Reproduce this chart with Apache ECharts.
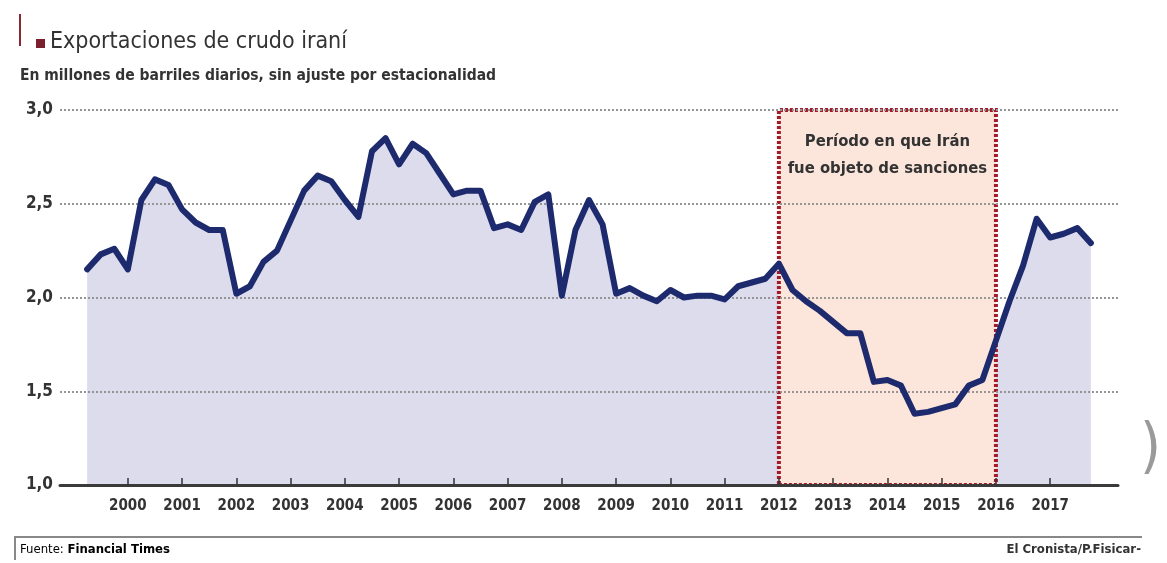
<!DOCTYPE html>
<html>
<head>
<meta charset="utf-8">
<script src="https://cdn.jsdelivr.net/npm/echarts@6/dist/echarts.min.js"></script>
<style>
  html, body { margin: 0; padding: 0; background: #fff; }
  #chart { width: 1167px; height: 563px; }
</style>
</head>
<body>
<div id="chart"></div>
<script>
// exportaciones trimestrales, 1999-T2 .. 2017-T4 (millones de barriles diarios)
var valores = [
    2.15, 2.23, 2.26, 2.15, 2.52, 2.63, 2.60, 2.47, 2.40, 2.36, 2.36, 2.02,
    2.06, 2.19, 2.25, 2.41, 2.57, 2.65, 2.62, 2.52, 2.43, 2.78, 2.85, 2.71,
    2.82, 2.77, 2.66, 2.55, 2.57, 2.57, 2.37, 2.39, 2.36, 2.51, 2.55, 2.01,
    2.36, 2.52, 2.39, 2.02, 2.05, 2.01, 1.98, 2.04, 2.00, 2.01, 2.01, 1.99,
    2.06, 2.08, 2.10, 2.18, 2.04, 1.98, 1.93, 1.87, 1.81, 1.81, 1.55, 1.56,
    1.53, 1.38, 1.39, 1.41, 1.43, 1.53, 1.56, 1.77, 1.98, 2.17, 2.42, 2.32,
    2.34, 2.37, 2.29
];
var anos = ['2000', '2001', '2002', '2003', '2004', '2005', '2006', '2007', '2008',
            '2009', '2010', '2011', '2012', '2013', '2014', '2015', '2016', '2017'];
var ticksY = [1.0, 1.5, 2.0, 2.5, 3.0];
var sanciones = ['2012-T1', '2016-T1'];

// categorias trimestrales (con dos trimestres vacios a cada lado)
var categorias = [];
for (var a = 1998; a <= 2018; a++) {
    for (var t = 1; t <= 4; t++) categorias.push(a + '-T' + t);
}
categorias = categorias.slice(categorias.indexOf('1998-T4'), categorias.indexOf('2018-T2') + 1);

var serieLinea = [null, null].concat(valores, [null, null]);
var iIni = categorias.indexOf(sanciones[0]);
var iFin = categorias.indexOf(sanciones[1]);
// el relleno lila no entra en la zona de sanciones
var serieArea = serieLinea.map(function (v, i) {
    return (i > iIni && i < iFin) ? null : v;
});

var FUENTE = '"Liberation Sans Narrow", "DejaVu Sans Condensed", "Roboto Condensed", "Noto Sans", sans-serif';
var esAno = function (idx, name) {
    return name.slice(-2) === 'T1' && anos.indexOf(name.slice(0, 4)) >= 0;
};

var chart = echarts.init(document.getElementById('chart'));
var option = {
    animation: false,
    backgroundColor: '#fff',
    grid: { left: 60, right: 49, top: 110, bottom: 78 },
    xAxis: {
        type: 'category',
        data: categorias,
        boundaryGap: false,
        z: 3,
        axisLine: { lineStyle: { color: '#3a3a3a', width: 3 } },
        axisTick: {
            inside: true, length: 7, interval: esAno,
            lineStyle: { color: '#333', width: 1.5 }
        },
        axisLabel: {
            interval: esAno,
            margin: 14,
            formatter: function (v) { return v.slice(0, 4); },
            fontFamily: FUENTE, fontWeight: 'bold', fontSize: 15, color: '#333'
        },
        splitLine: { show: false }
    },
    yAxis: {
        type: 'value',
        min: ticksY[0], max: ticksY[ticksY.length - 1], interval: 0.5,
        z: 3,
        axisLine: { show: false },
        axisTick: { show: false },
        axisLabel: {
            margin: 7,
            formatter: function (v) { return v.toFixed(1).replace('.', ','); },
            fontFamily: FUENTE, fontWeight: 'bold', fontSize: 17, color: '#333'
        },
        splitLine: { lineStyle: { color: '#959595', width: 2, type: [2, 2] } }
    },
    series: [
        {
            name: 'relleno',
            type: 'line',
            z: 1,
            data: serieArea,
            symbol: 'none',
            lineStyle: { width: 0 },
            areaStyle: { color: '#dddcec', opacity: 1 },
            markArea: {
                silent: true,
                z: 2,
                itemStyle: {
                    color: '#fce5da',
                    borderColor: '#a51a28',
                    borderWidth: 4,
                    borderType: [3, 2]
                },
                label: {
                    show: true,
                    position: 'insideTop',
                    distance: 20,
                    formatter: 'Período en que Irán\nfue objeto de sanciones',
                    fontFamily: FUENTE, fontWeight: 'bold', fontSize: 16.5,
                    lineHeight: 27, color: '#333'
                },
                data: [[
                    { xAxis: sanciones[0], yAxis: ticksY[0] },
                    { xAxis: sanciones[1], yAxis: ticksY[ticksY.length - 1] }
                ]]
            }
        },
        {
            name: 'Exportaciones',
            type: 'line',
            z: 5,
            data: serieLinea,
            symbol: 'none',
            lineStyle: { color: '#1d2a6e', width: 6, join: 'round', cap: 'round' }
        }
    ],
    graphic: [
        { type: 'rect', left: 19, top: 14, shape: { width: 2, height: 32 }, style: { fill: '#8c2633' } },
        { type: 'rect', left: 36, top: 39, shape: { width: 9, height: 9 }, style: { fill: '#7c1f2c' } },
        {
            type: 'text', left: 50, top: 31,
            style: { text: 'Exportaciones de crudo iraní', fill: '#333', font: 'normal 23px ' + FUENTE }
        },
        {
            type: 'text', left: 20, top: 68,
            style: { text: 'En millones de barriles diarios, sin ajuste por estacionalidad', fill: '#333', font: 'bold 15.5px ' + FUENTE }
        },
        {
            type: 'polyline',
            shape: { points: [[15, 560], [15, 537], [1142, 537]] },
            style: { stroke: '#888', lineWidth: 2, fill: null }
        },
        {
            type: 'text', left: 20, top: 543,
            style: {
                text: '{a|Fuente: }{b|Financial Times}',
                rich: {
                    a: { fontFamily: FUENTE, fontSize: 13, color: '#444' },
                    b: { fontFamily: FUENTE, fontSize: 13, fontWeight: 'bold', color: '#333' }
                }
            }
        },
        {
            type: 'text', right: 26, top: 543,
            style: { text: 'El Cronista/P.Fisicar-', fill: '#333', font: 'bold 13px ' + FUENTE }
        },
        {
            type: 'text', left: 1140, top: 420,
            style: { text: ')', fill: '#9a9a9a', font: 'normal 60px ' + FUENTE }
        }
    ]
};
chart.setOption(option);
</script>
</body>
</html>
